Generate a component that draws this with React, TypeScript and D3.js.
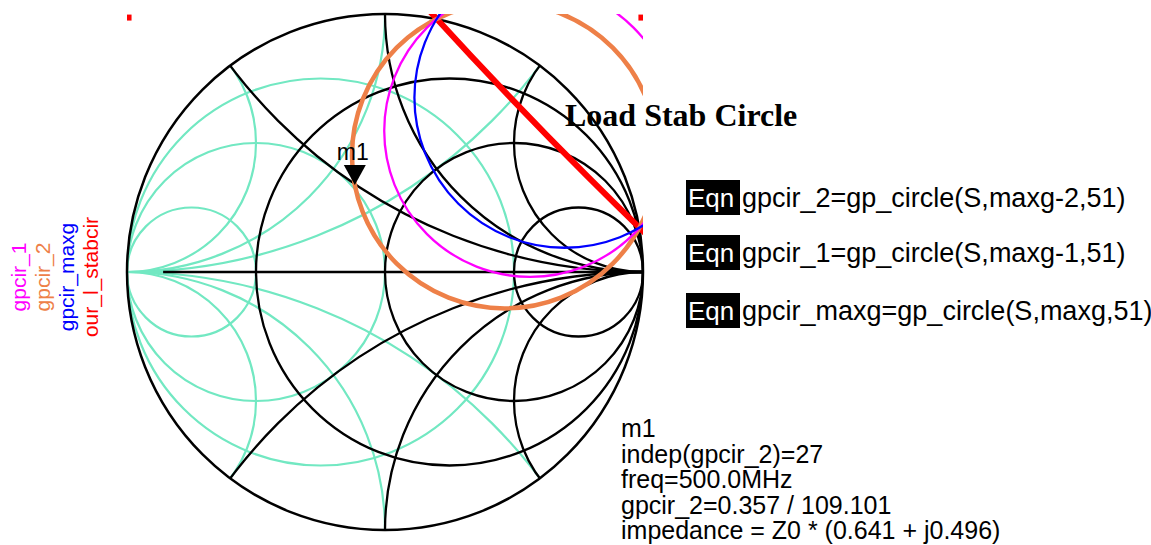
import React, { useEffect, useRef } from 'react';
import * as d3 from 'd3';

// Smith chart grid (normalized values)
const resistances = [1 / 3, 1, 3];
const reactances = [0.5, 1, 2];
const conductances = [1 / 3, 1, 3];
const susceptances = [0.5, 1, 2];

// traces: centre and radius in the reflection-coefficient plane
const traceNames = ['gpcir_1', 'gpcir_2', 'gpcir_maxg', 'our_l_stabcir'];
const traceColors = ['#ff00ff', '#ee8048', '#0000ff', '#ff0000'];
const traceWidths = [2.3, 4.5, 2.3, 6];
const gainCenters = [[0.563, 0.547], [0.464, 0.451], [0.696, 0.676]];
const gainRadii = [0.566, 0.592, 0.582];
const stabCenter = [14.35, 13.93];
const stabRadius = 19.18;
const stabCornerBits = [[-0.994, 0.99], [0.99, 0.99]];

// marker m1 on gpcir_2
const markerGamma = [-0.117, 0.3375];
const markerLines = [
    'm1',
    'indep(gpcir_2)=27',
    'freq=500.0MHz',
    'gpcir_2=0.357 / 109.101',
    'impedance = Z0 * (0.641 + j0.496)',
];
const eqnLines = [
    'gpcir_2=gp_circle(S,maxg-2,51)',
    'gpcir_1=gp_circle(S,maxg-1,51)',
    'gpcir_maxg=gp_circle(S,maxg,51)',
];

const W = 1151;
const H = 545;
const sans = '"Liberation Sans", Arial, sans-serif';

const App = () => {
    const ref = useRef<SVGSVGElement>(null);

    useEffect(() => {
        const svg = d3.select(ref.current);
        svg.selectAll('*').remove();

        const cx = 385, cy = 272, R = 258;
        const x = d3.scaleLinear().domain([-1, 1]).range([cx - R, cx + R]);
        const y = d3.scaleLinear().domain([-1, 1]).range([cy + R, cy - R]);
        const k = (v: number) => x(v) - x(0);

        const defs = svg.append('defs');
        defs.append('clipPath').attr('id', 'disc')
            .append('circle').attr('cx', x(0)).attr('cy', y(0)).attr('r', k(1));
        defs.append('clipPath').attr('id', 'box')
            .append('rect').attr('x', x(-1)).attr('y', y(1)).attr('width', k(2)).attr('height', k(2));

        const grid = svg.append('g').attr('clip-path', 'url(#disc)').attr('fill', 'none');
        const cyan = '#72e8c2';

        // admittance grid
        conductances.forEach(g => {
            grid.append('circle')
                .attr('cx', x(-g / (1 + g))).attr('cy', y(0)).attr('r', k(1 / (1 + g)))
                .attr('stroke', cyan).attr('stroke-width', 2.2);
        });
        susceptances.forEach(b => {
            [1, -1].forEach(s => {
                grid.append('circle')
                    .attr('cx', x(-1)).attr('cy', y(s / b)).attr('r', k(1 / b))
                    .attr('stroke', cyan).attr('stroke-width', 2.2);
            });
        });
        grid.append('line')
            .attr('x1', x(-1)).attr('x2', x(1)).attr('y1', y(0)).attr('y2', y(0))
            .attr('stroke', cyan).attr('stroke-width', 2.2);

        // impedance grid
        resistances.forEach(r => {
            grid.append('circle')
                .attr('cx', x(r / (1 + r))).attr('cy', y(0)).attr('r', k(1 / (1 + r)))
                .attr('stroke', 'black').attr('stroke-width', 2.3);
        });
        reactances.forEach(xv => {
            [1, -1].forEach(s => {
                grid.append('circle')
                    .attr('cx', x(1)).attr('cy', y(s / xv)).attr('r', k(1 / xv))
                    .attr('stroke', 'black').attr('stroke-width', 2.3);
            });
        });
        grid.append('line')
            .attr('x1', x(-0.86)).attr('x2', x(1)).attr('y1', y(0)).attr('y2', y(0))
            .attr('stroke', 'black').attr('stroke-width', 2.3);

        svg.append('circle')
            .attr('cx', x(0)).attr('cy', y(0)).attr('r', k(1))
            .attr('fill', 'none').attr('stroke', 'black').attr('stroke-width', 2.5);

        // traces
        const traces = svg.append('g').attr('clip-path', 'url(#box)').attr('fill', 'none');
        traces.append('circle')
            .attr('cx', x(stabCenter[0])).attr('cy', y(stabCenter[1])).attr('r', k(stabRadius))
            .attr('stroke', traceColors[3]).attr('stroke-width', traceWidths[3]);
        stabCornerBits.forEach(p => {
            traces.append('rect')
                .attr('x', x(p[0]) - 2).attr('y', y(p[1]) - 2).attr('width', 5).attr('height', 6)
                .attr('fill', traceColors[3]);
        });
        [1, 0, 2].forEach(i => {
            traces.append('circle')
                .attr('cx', x(gainCenters[i][0])).attr('cy', y(gainCenters[i][1])).attr('r', k(gainRadii[i]))
                .attr('stroke', traceColors[i]).attr('stroke-width', traceWidths[i]);
        });

        // marker
        const mx = x(markerGamma[0]), my = y(markerGamma[1]);
        svg.append('path')
            .attr('d', `M${mx - 11},${my - 20}L${mx + 11},${my - 20}L${mx},${my}Z`)
            .attr('fill', 'black');
        svg.append('text')
            .attr('x', mx - 2).attr('y', my - 25)
            .attr('text-anchor', 'middle')
            .style('font-family', sans).style('font-size', '23px')
            .text('m1');

        // legend (rotated)
        traceNames.forEach((name, i) => {
            svg.append('text')
                .attr('transform', `translate(${26 + i * 24},277) rotate(-90)`)
                .attr('text-anchor', 'middle')
                .style('font-family', sans).style('font-size', '21px')
                .attr('fill', traceColors[i])
                .text(name);
        });

        // title
        svg.append('text')
            .attr('x', 565).attr('y', 126)
            .style('font-family', '"Liberation Serif", "Times New Roman", serif')
            .style('font-size', '32px').style('font-weight', 'bold')
            .text('Load Stab Circle');

        // equations
        const rowTops = [180, 235, 293];
        eqnLines.forEach((line, i) => {
            svg.append('rect')
                .attr('x', 686).attr('y', rowTops[i]).attr('width', 54).attr('height', 35)
                .attr('fill', 'black');
            svg.append('text')
                .attr('x', 688).attr('y', rowTops[i] + 27)
                .style('font-family', sans).style('font-size', '26px')
                .attr('fill', 'white')
                .text('Eqn');
            svg.append('text')
                .attr('x', 742).attr('y', rowTops[i] + 27)
                .style('font-family', sans).style('font-size', '27px')
                .text(line);
        });

        // marker readout
        markerLines.forEach((line, i) => {
            svg.append('text')
                .attr('x', 621).attr('y', 437 + i * 25.5)
                .style('font-family', sans).style('font-size', '25px')
                .text(line);
        });
    }, []);

    return (
        <svg ref={ref} width={W} height={H}
            style={{ position: 'absolute', left: 0, top: 0, background: 'white' }} />
    );
};

export default App;
